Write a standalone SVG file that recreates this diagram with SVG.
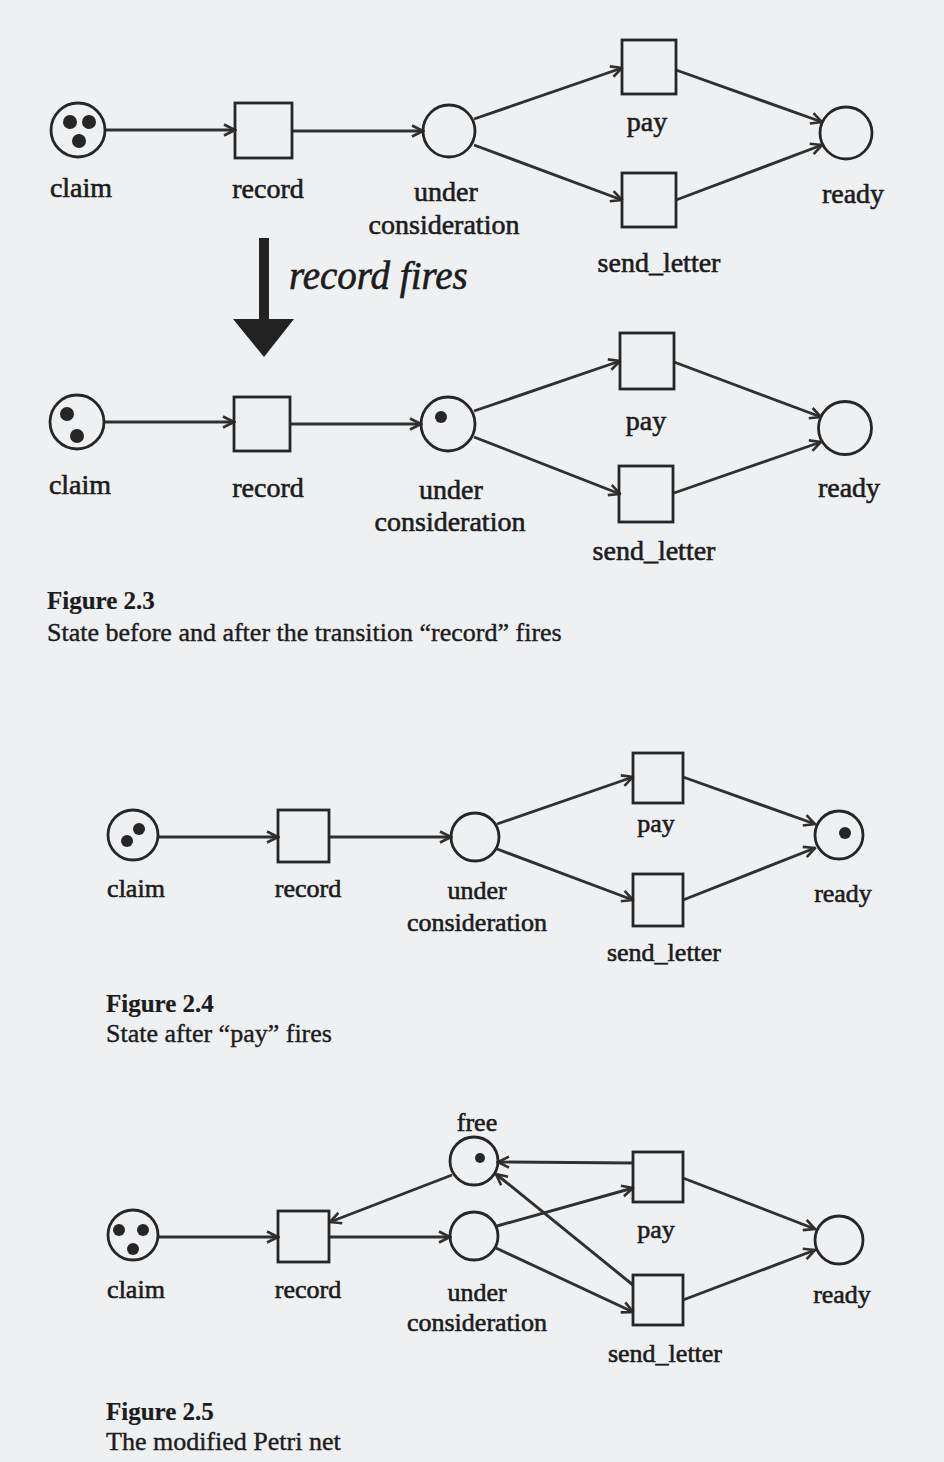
<svg xmlns="http://www.w3.org/2000/svg" width="944" height="1462" viewBox="0 0 944 1462">
<defs>
<style>
.pl{fill:none;stroke:#262626;stroke-width:2.8}
.tr{fill:none;stroke:#262626;stroke-width:2.8}
.tk{fill:#262626}
.e{fill:none;stroke:#303030;stroke-width:2.9;marker-end:url(#ah)}
.lb{font-family:"Liberation Serif","Times New Roman",serif;fill:#1c1c1c;stroke:#1c1c1c;stroke-width:0.6;text-anchor:middle}
.a{font-size:28px}
.b{font-size:26px}
.cap{font-family:"Liberation Serif","Times New Roman",serif;fill:#1c1c1c;stroke:#1c1c1c;stroke-width:0.4;font-size:26px}
.fig{font-weight:bold;font-size:25px;stroke-width:0.2}
</style>
<marker id="ah" viewBox="0 0 14 14" refX="12.5" refY="7" markerWidth="14" markerHeight="14" markerUnits="userSpaceOnUse" orient="auto">
<path d="M1.5,1.5 L12.5,7 L1.5,12.5" fill="none" stroke="#303030" stroke-width="2.6"/>
</marker>
</defs>
<rect width="944" height="1462" fill="#eff0f2"/>

<!-- Figure A (before) -->
<g id="connectors-a">
<line class="e" x1="105" y1="130" x2="235" y2="130"/>
<line class="e" x1="292" y1="131" x2="423" y2="131"/>
<line class="e" x1="474" y1="119" x2="622" y2="68"/>
<line class="e" x1="474" y1="145" x2="622" y2="200"/>
<line class="e" x1="676" y1="70" x2="822" y2="122"/>
<line class="e" x1="676" y1="200" x2="822" y2="145"/>
</g>
<g id="a-claim"><circle class="pl" cx="78" cy="130" r="27"/><circle class="tk" cx="70" cy="122" r="7"/><circle class="tk" cx="89" cy="122" r="7"/><circle class="tk" cx="79" cy="141" r="7"/><text class="lb a" x="81" y="197">claim</text></g>
<g id="a-record"><rect class="tr" x="235" y="103" width="57" height="55"/><text class="lb a" x="268" y="198">record</text></g>
<g id="a-uc"><circle class="pl" cx="449" cy="131" r="26"/><text class="lb a" x="446" y="201">under</text><text class="lb a" x="444" y="234">consideration</text></g>
<g id="a-pay"><rect class="tr" x="622" y="40" width="54" height="54"/><text class="lb a" x="647" y="131">pay</text></g>
<g id="a-send"><rect class="tr" x="622" y="173" width="54" height="54"/><text class="lb a" x="659" y="272">send_letter</text></g>
<g id="a-ready"><circle class="pl" cx="846" cy="133" r="26"/><text class="lb a" x="853" y="203">ready</text></g>

<!-- big arrow -->
<g id="fires-arrow">
<rect x="259" y="238" width="10" height="84" fill="#222"/>
<polygon points="233,319 294,319 264,357" fill="#222"/>
<text x="289" y="289" font-family="Liberation Serif,'Times New Roman',serif" font-style="italic" font-size="39" fill="#1c1c1c" stroke="#1c1c1c" stroke-width="0.6">record fires</text>
</g>

<!-- Figure B (after) -->
<g id="connectors-b">
<line class="e" x1="104" y1="422" x2="234" y2="422"/>
<line class="e" x1="290" y1="424" x2="421" y2="424"/>
<line class="e" x1="474" y1="411" x2="620" y2="361"/>
<line class="e" x1="474" y1="437" x2="620" y2="494"/>
<line class="e" x1="674" y1="362" x2="821" y2="417"/>
<line class="e" x1="674" y1="493" x2="821" y2="442"/>
</g>
<g id="b-claim"><circle class="pl" cx="77" cy="422" r="27"/><circle class="tk" cx="67" cy="414" r="7"/><circle class="tk" cx="77" cy="436" r="7"/><text class="lb a" x="80" y="494">claim</text></g>
<g id="b-record"><rect class="tr" x="234" y="397" width="56" height="54"/><text class="lb a" x="268" y="497">record</text></g>
<g id="b-uc"><circle class="pl" cx="448" cy="424" r="27"/><circle class="tk" cx="441" cy="417" r="6"/><text class="lb a" x="451" y="499">under</text><text class="lb a" x="450" y="531">consideration</text></g>
<g id="b-pay"><rect class="tr" x="620" y="333" width="54" height="56"/><text class="lb a" x="646" y="430">pay</text></g>
<g id="b-send"><rect class="tr" x="619" y="466" width="54" height="56"/><text class="lb a" x="654" y="560">send_letter</text></g>
<g id="b-ready"><circle class="pl" cx="845" cy="428" r="26.5"/><text class="lb a" x="849" y="497">ready</text></g>

<g id="caption-23">
<text class="cap fig" x="47" y="609">Figure 2.3</text>
<text class="cap" x="47" y="641">State before and after the transition “record” fires</text>
</g>

<!-- Figure 2.4 -->
<g id="connectors-c">
<line class="e" x1="158" y1="837" x2="278" y2="837"/>
<line class="e" x1="329" y1="837" x2="451" y2="837"/>
<line class="e" x1="497" y1="824" x2="633" y2="777"/>
<line class="e" x1="497" y1="849" x2="633" y2="900"/>
<line class="e" x1="683" y1="777" x2="815" y2="824"/>
<line class="e" x1="683" y1="900" x2="815" y2="848"/>
</g>
<g id="c-claim"><circle class="pl" cx="133" cy="835" r="25"/><circle class="tk" cx="139" cy="829" r="6"/><circle class="tk" cx="127" cy="841" r="6"/><text class="lb b" x="136" y="897">claim</text></g>
<g id="c-record"><rect class="tr" x="278" y="810" width="51" height="52"/><text class="lb b" x="308" y="897">record</text></g>
<g id="c-uc"><circle class="pl" cx="475" cy="837" r="24"/><text class="lb b" x="477" y="899">under</text><text class="lb b" x="477" y="931">consideration</text></g>
<g id="c-pay"><rect class="tr" x="633" y="753" width="50" height="50"/><text class="lb b" x="656" y="832">pay</text></g>
<g id="c-send"><rect class="tr" x="633" y="874" width="50" height="52"/><text class="lb b" x="664" y="961">send_letter</text></g>
<g id="c-ready"><circle class="pl" cx="839" cy="835" r="24"/><circle class="tk" cx="845" cy="833" r="6"/><text class="lb b" x="843" y="902">ready</text></g>

<g id="caption-24">
<text class="cap fig" x="106" y="1012">Figure 2.4</text>
<text class="cap" x="106" y="1042">State after “pay” fires</text>
</g>

<!-- Figure 2.5 -->
<g id="connectors-d">
<line class="e" x1="158" y1="1237" x2="278" y2="1237"/>
<line class="e" x1="329" y1="1237" x2="450" y2="1237"/>
<line class="e" x1="452" y1="1175" x2="330" y2="1222"/>
<line class="e" x1="633" y1="1163" x2="498" y2="1162"/>
<line class="e" x1="633" y1="1285" x2="496" y2="1174"/>
<line class="e" x1="497" y1="1226" x2="633" y2="1188"/>
<line class="e" x1="496" y1="1248" x2="633" y2="1312"/>
<line class="e" x1="683" y1="1178" x2="815" y2="1229"/>
<line class="e" x1="683" y1="1300" x2="815" y2="1250"/>
</g>
<g id="d-claim"><circle class="pl" cx="133" cy="1235" r="25"/><circle class="tk" cx="119" cy="1230" r="6"/><circle class="tk" cx="143" cy="1230" r="6"/><circle class="tk" cx="133" cy="1249" r="6"/><text class="lb b" x="136" y="1298">claim</text></g>
<g id="d-record"><rect class="tr" x="278" y="1211" width="51" height="51"/><text class="lb b" x="308" y="1298">record</text></g>
<g id="d-free"><circle class="pl" cx="474" cy="1161" r="24"/><circle class="tk" cx="480" cy="1158" r="5"/><text class="lb b" x="477" y="1131">free</text></g>
<g id="d-uc"><circle class="pl" cx="474" cy="1236" r="24"/><text class="lb b" x="477" y="1301">under</text><text class="lb b" x="477" y="1331">consideration</text></g>
<g id="d-pay"><rect class="tr" x="633" y="1152" width="50" height="50"/><text class="lb b" x="656" y="1238">pay</text></g>
<g id="d-send"><rect class="tr" x="633" y="1275" width="50" height="50"/><text class="lb b" x="665" y="1362">send_letter</text></g>
<g id="d-ready"><circle class="pl" cx="839" cy="1240" r="24"/><text class="lb b" x="842" y="1303">ready</text></g>

<g id="caption-25">
<text class="cap fig" x="106" y="1420">Figure 2.5</text>
<text class="cap" x="106" y="1450">The modified Petri net</text>
</g>
</svg>
